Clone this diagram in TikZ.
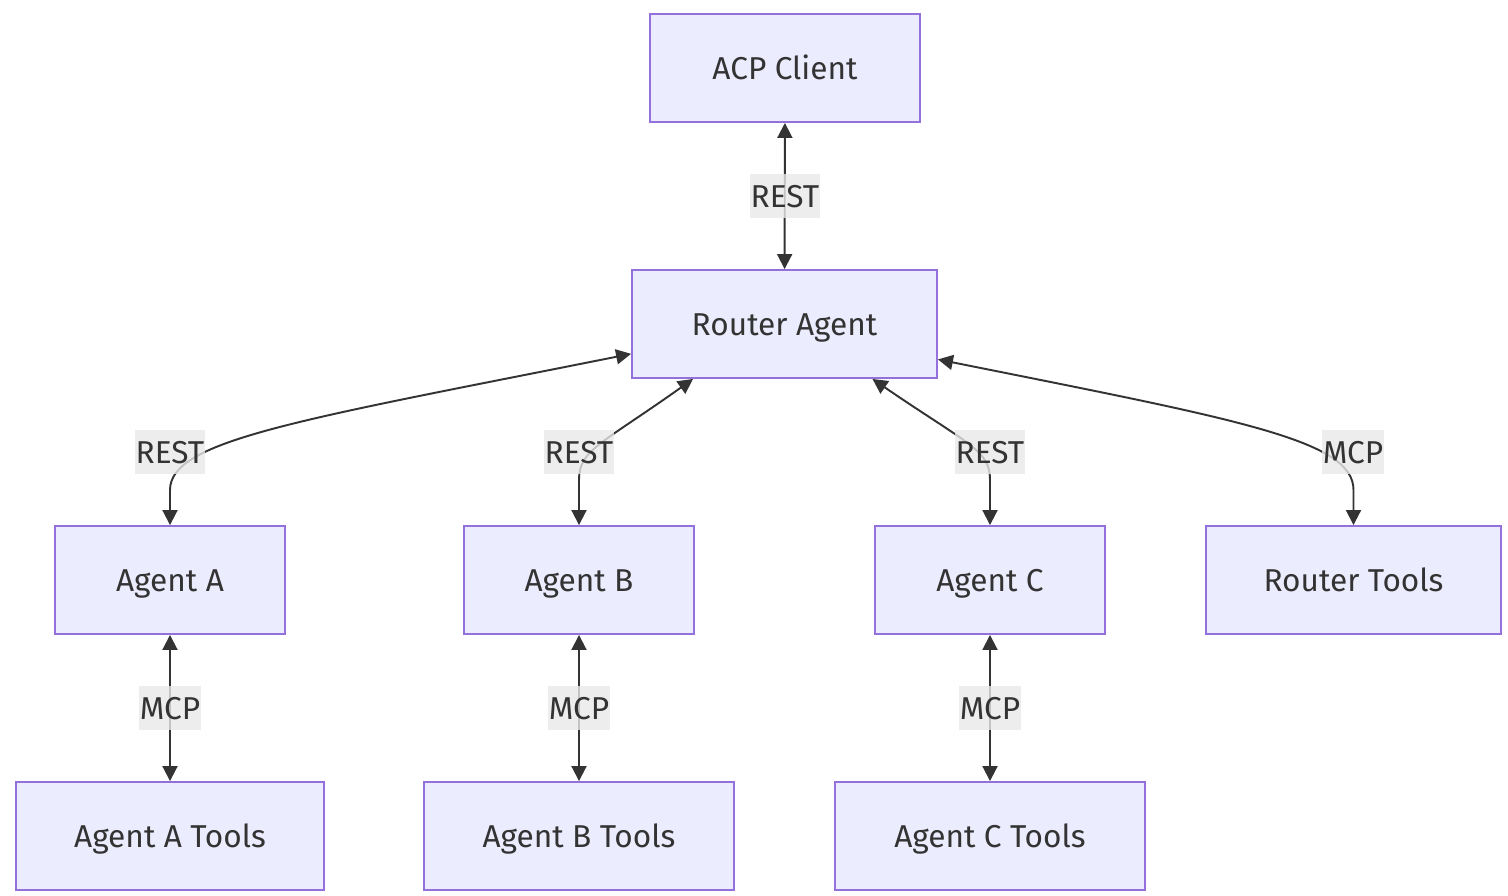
\documentclass[tikz,border=0pt]{standalone}
\usepackage{fontspec}
\setmainfont{Fira Sans}
\usetikzlibrary{arrows.meta}
\definecolor{boxfill}{HTML}{ECECFF}
\definecolor{boxline}{HTML}{9370DB}
\definecolor{ink}{HTML}{333333}
\definecolor{lblfill}{HTML}{E8E8E8}
\tikzset{%
  box/.style  = {shape=rectangle, draw=boxline, fill=boxfill, line width=1.1pt,%
                 text=ink, inner sep=0pt, minimum height=2.16cm,%
                 text height=12.8pt, text depth=0pt,%
                 font=\fontsize{18}{22}\selectfont},%
  lbl/.style  = {shape=rectangle, fill=lblfill, fill opacity=0.8, text opacity=1,%
                 text=ink, inner xsep=0.5pt, inner ysep=0pt, minimum height=0.88cm,%
                 text height=12.8pt, text depth=0pt,%
                 font=\fontsize{18}{22}\selectfont},%
  link/.style = {draw=ink, line width=1.1pt,%
                 {Triangle[length=0.3cm,width=0.3cm]}-{Triangle[length=0.3cm,width=0.3cm]}}%
}

\begin{document}
\begin{tikzpicture}[x=0.02cm,y=-0.02cm]
	\useasboundingbox (0,0) rectangle (1508,896);
	\node [box, minimum width=5.4cm]  (acp)    at (785,68)    {ACP Client};
	\node [box, minimum width=6.1cm]  (router) at (784.5,324) {Router Agent};
	\node [box, minimum width=4.6cm]  (agta)   at (170,580)   {Agent A};
	\node [box, minimum width=4.6cm]  (agtb)   at (579,580)   {Agent B};
	\node [box, minimum width=4.6cm]  (agtc)   at (990,580)   {Agent C};
	\node [box, minimum width=5.9cm]  (rtools) at (1353.5,580) {Router Tools};
	\node [box, minimum width=6.16cm] (atools) at (170,836)   {Agent A Tools};
	\node [box, minimum width=6.2cm]  (btools) at (579,836)   {Agent B Tools};
	\node [box, minimum width=6.2cm]  (ctools) at (990,836)   {Agent C Tools};

	\draw [link] (acp) -- (router);
	\draw [link] (router.191.5) .. controls (300,420) and (170,440) .. (170,490) -- (agta.north);
	\draw [link] (router.211.1) .. controls (600,445) and (579,450) .. (579,480) -- (agtb.north);
	\draw [link] (router.328.9) .. controls (969,445) and (990,450) .. (990,480) -- (agtc.north);
	\draw [link] (router.347.8) .. controls (1240,420) and (1353.5,440) .. (1353.5,490) -- (rtools.north);
	\draw [link] (agta) -- (atools);
	\draw [link] (agtb) -- (btools);
	\draw [link] (agtc) -- (ctools);

	\node [lbl] (l1) at (785,196)  {REST};
	\node [lbl] (l2) at (170,452)  {REST};
	\node [lbl] (l3) at (579,452)  {REST};
	\node [lbl] (l4) at (990,452)  {REST};
	\node [lbl] (l5) at (1353,452) {MCP};
	\node [lbl] (l6) at (170,708)  {MCP};
	\node [lbl] (l7) at (579,708)  {MCP};
	\node [lbl] (l8) at (990,708)  {MCP};
\end{tikzpicture}
\end{document}
